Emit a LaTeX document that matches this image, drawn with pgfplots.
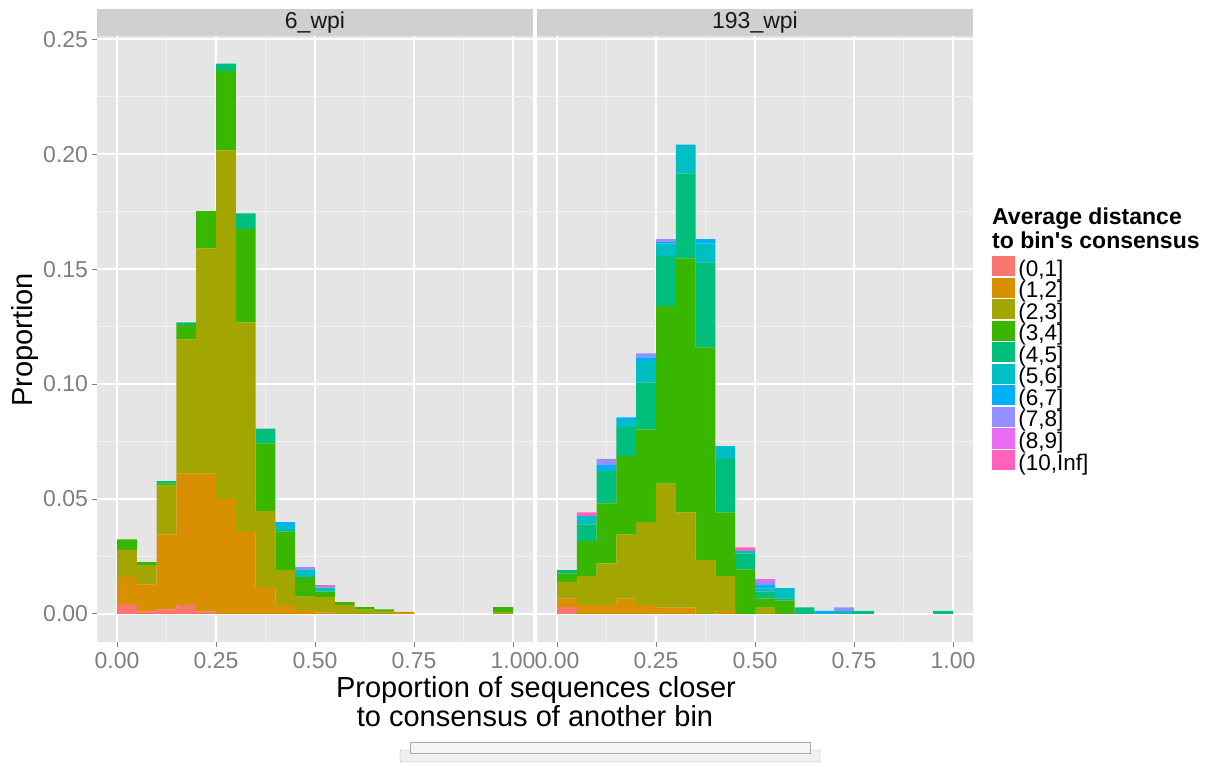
\documentclass[border=0pt]{standalone}
\usepackage{pgfplots}
\pgfplotsset{compat=1.18}
\usepackage{pgfplotstable}
\usepackage{fontspec}
\setmainfont{Liberation Sans}

\definecolor{c1}{HTML}{F8766D}
\definecolor{c2}{HTML}{D89000}
\definecolor{c3}{HTML}{A3A500}
\definecolor{c4}{HTML}{39B600}
\definecolor{c5}{HTML}{00BF7D}
\definecolor{c6}{HTML}{00BFC4}
\definecolor{c7}{HTML}{00B0F6}
\definecolor{c8}{HTML}{9590FF}
\definecolor{c9}{HTML}{E76BF3}
\definecolor{c10}{HTML}{FF62BC}
\definecolor{panelbg}{HTML}{E5E5E5}
\definecolor{stripbg}{HTML}{D0D0D0}
\definecolor{gridminor}{HTML}{F2F2F2}
\definecolor{tickgray}{HTML}{7F7F7F}

% increments per class, bins of width 0.05 (centres)
\pgfplotstableread{
x     c1    c2    c3    c4    c5    c6    c7    c8    c9    c10
0.025 0.004 0.012 0.0118 0.0047 0 0 0 0 0 0
0.075 0.001 0.0118 0.0085 0.0013 0 0 0 0 0 0
0.125 0.002 0.0325 0.0213 0.001 0.001 0 0 0 0 0
0.175 0.004 0.057 0.0584 0.0063 0.0011 0 0 0 0 0
0.225 0.001 0.060 0.098 0.0162 0 0 0 0 0 0
0.275 0 0.0501 0.1516 0.0344 0.0033 0 0 0 0 0
0.325 0 0.0357 0.0911 0.0407 0.0067 0 0 0 0 0
0.375 0 0.0117 0.0331 0.0294 0.0064 0 0 0 0 0
0.425 0 0.0039 0.0152 0.0167 0.0007 0.0017 0.0017 0 0 0
0.475 0 0.0017 0.0058 0.0085 0 0.0031 0 0.0012 0 0
0.525 0 0.0006 0.0067 0.0024 0 0.0019 0 0 0 0.0011
0.575 0 0 0.004 0.0012 0 0 0 0 0 0
0.625 0 0 0.0019 0.0011 0 0 0 0 0 0
0.675 0 0 0.0012 0.0008 0 0 0 0 0 0
0.725 0 0.0009 0 0 0 0 0 0 0 0
0.775 0 0 0 0 0 0 0 0 0 0
0.825 0 0 0 0 0 0 0 0 0 0
0.875 0 0 0 0 0 0 0 0 0 0
0.925 0 0 0 0 0 0 0 0 0 0
0.975 0 0 0.0009 0.0021 0 0 0 0 0 0
}\wpisix

\pgfplotstableread{
x     c1    c2    c3    c4    c5    c6    c7    c8    c9    c10
0.025 0.0029 0.0038 0.0072 0.0038 0.0014 0 0 0 0 0
0.075 0 0.004 0.0125 0.0152 0.0073 0.0036 0 0 0 0.0016
0.125 0 0.004 0.018 0.0261 0.0141 0 0.0026 0.0027 0 0
0.175 0 0.0067 0.0278 0.0342 0.0126 0.0027 0.0015 0 0 0
0.225 0 0.004 0.036 0.0403 0.0204 0.0094 0.0015 0.0017 0 0
0.275 0 0.0028 0.0539 0.0773 0.0218 0.0054 0.0005 0.0013 0 0
0.325 0 0.0028 0.0414 0.1105 0.0369 0.012 0.0006 0 0 0
0.375 0 0 0.0235 0.0925 0.0369 0.0083 0.0018 0 0 0
0.425 0 0.0013 0.0152 0.0277 0.0233 0.0055 0 0 0 0
0.475 0 0 0 0.0194 0.007 0.001 0 0 0 0.0016
0.525 0 0 0.003 0.0038 0.0029 0.0014 0.0015 0.0014 0.0011 0
0.575 0 0 0 0.0058 0.001 0.0044 0 0 0 0
0.625 0 0 0 0 0.0029 0 0 0 0 0
0.675 0 0 0 0 0 0 0.0014 0 0 0
0.725 0 0 0 0 0 0.0014 0 0.0015 0 0
0.775 0 0 0 0 0.0014 0 0 0 0 0
0.825 0 0 0 0 0 0 0 0 0 0
0.875 0 0 0 0 0 0 0 0 0 0
0.925 0 0 0 0 0 0 0 0 0 0
0.975 0 0 0 0 0.0014 0 0 0 0 0
}\wpilate

\pgfplotsset{
  keyimg/.style={legend image code/.code={\fill[##1] (0pt,-4.8pt) rectangle (22.6pt,15.4pt);}},
  facet/.style={
    scale only axis, width=435.6pt, height=605.5pt,
    xmin=-0.05, xmax=1.05, ymin=-0.01197, ymax=0.2514,
    axis background/.style={fill=panelbg},
    axis line style={draw=none},
    grid=both,
    major grid style={white, line width=1.6pt},
    minor grid style={gridminor, line width=0.8pt},
    xtick={0,0.25,0.5,0.75,1},
    xticklabels={0.00,0.25,0.50,0.75,1.00},
    minor xtick={0.125,0.375,0.625,0.875},
    ytick={0,0.05,0.10,0.15,0.20,0.25},
    yticklabels={0.00,0.05,0.10,0.15,0.20,0.25},
    minor ytick={0.025,0.075,0.125,0.175,0.225},
    xtick pos=left, ytick pos=left,
    tick align=outside,
    major tick length=5pt, minor tick length=0pt,
    major tick style={tickgray, line width=1pt},
    ticklabel style={font=\fontsize{23}{27}\selectfont, text=tickgray, inner sep=0pt},
    xticklabel style={yshift=-6pt},
    yticklabel style={xshift=-4pt},
    ybar stacked, bar width=0.05,
    every axis title shift=0pt,
    title style={at={(0.5,1)}, anchor=south, fill=stripbg, minimum width=435.6pt,
      minimum height=27pt, inner sep=0pt, font=\fontsize{23}{27}\selectfont, text=black!90},
  }
}

\begin{document}
\begin{tikzpicture}[x=1pt,y=1pt]
\path (0,0) rectangle (1222,763);

\begin{axis}[facet, at={(97.2pt,121.5pt)}, anchor=south west, title={6\_wpi},
  legend style={at={(2.0542,0.6367)}, anchor=north west, draw=none, fill=none,
    inner sep=0pt, outer sep=0pt, row sep=-4.6pt, column sep=3.7pt,
    font=\fontsize{22.5}{27}\selectfont,
    nodes={inner sep=0pt, text height=15.5pt, text depth=6pt}},
  legend cell align=left]
\addplot[fill=c1, draw=none, keyimg] table[x=x,y=c1]{\wpisix}; \addlegendentry{(0,1]}
\addplot[fill=c2, draw=none, keyimg] table[x=x,y=c2]{\wpisix}; \addlegendentry{(1,2]}
\addplot[fill=c3, draw=none, keyimg] table[x=x,y=c3]{\wpisix}; \addlegendentry{(2,3]}
\addplot[fill=c4, draw=none, keyimg] table[x=x,y=c4]{\wpisix}; \addlegendentry{(3,4]}
\addplot[fill=c5, draw=none, keyimg] table[x=x,y=c5]{\wpisix}; \addlegendentry{(4,5]}
\addplot[fill=c6, draw=none, keyimg] table[x=x,y=c6]{\wpisix}; \addlegendentry{(5,6]}
\addplot[fill=c7, draw=none, keyimg] table[x=x,y=c7]{\wpisix}; \addlegendentry{(6,7]}
\addplot[fill=c8, draw=none, keyimg] table[x=x,y=c8]{\wpisix}; \addlegendentry{(7,8]}
\addplot[fill=c9, draw=none, keyimg] table[x=x,y=c9]{\wpisix}; \addlegendentry{(8,9]}
\addplot[fill=c10, draw=none, keyimg] table[x=x,y=c10]{\wpisix}; \addlegendentry{(10,Inf]}
\end{axis}

\begin{axis}[facet, at={(537.2pt,121.5pt)}, anchor=south west, title={193\_wpi},
  yticklabels={}, ytick style={draw=none}]
\addplot[fill=c1, draw=none] table[x=x,y=c1]{\wpilate};
\addplot[fill=c2, draw=none] table[x=x,y=c2]{\wpilate};
\addplot[fill=c3, draw=none] table[x=x,y=c3]{\wpilate};
\addplot[fill=c4, draw=none] table[x=x,y=c4]{\wpilate};
\addplot[fill=c5, draw=none] table[x=x,y=c5]{\wpilate};
\addplot[fill=c6, draw=none] table[x=x,y=c6]{\wpilate};
\addplot[fill=c7, draw=none] table[x=x,y=c7]{\wpilate};
\addplot[fill=c8, draw=none] table[x=x,y=c8]{\wpilate};
\addplot[fill=c9, draw=none] table[x=x,y=c9]{\wpilate};
\addplot[fill=c10, draw=none] table[x=x,y=c10]{\wpilate};
\end{axis}

\node[rotate=90, font=\fontsize{29}{34}\selectfont] at (25,423) {Proportion};
\node[anchor=base, font=\fontsize{29}{34}\selectfont] at (536,66) {Proportion of sequences closer};
\node[anchor=base, font=\fontsize{29}{34}\selectfont] at (535,37) {to consensus of another bin};

\node[anchor=base west, inner sep=0pt, font=\bfseries\fontsize{23}{27}\selectfont] at (992,538) {Average distance};
\node[anchor=base west, inner sep=0pt, font=\bfseries\fontsize{23}{27}\selectfont] at (992,514.7) {to bin\textquotesingle s consensus};

% faint scrollbar-like artefact under the chart
\draw[draw=black!25!blue!15!gray!60, fill=gray!12, rounded corners=1pt] (400,1) rectangle (820,13);
\draw[draw=black!25!blue!15!gray!60, fill=gray!8] (410,10) rectangle (810,21);
\end{tikzpicture}
\end{document}
